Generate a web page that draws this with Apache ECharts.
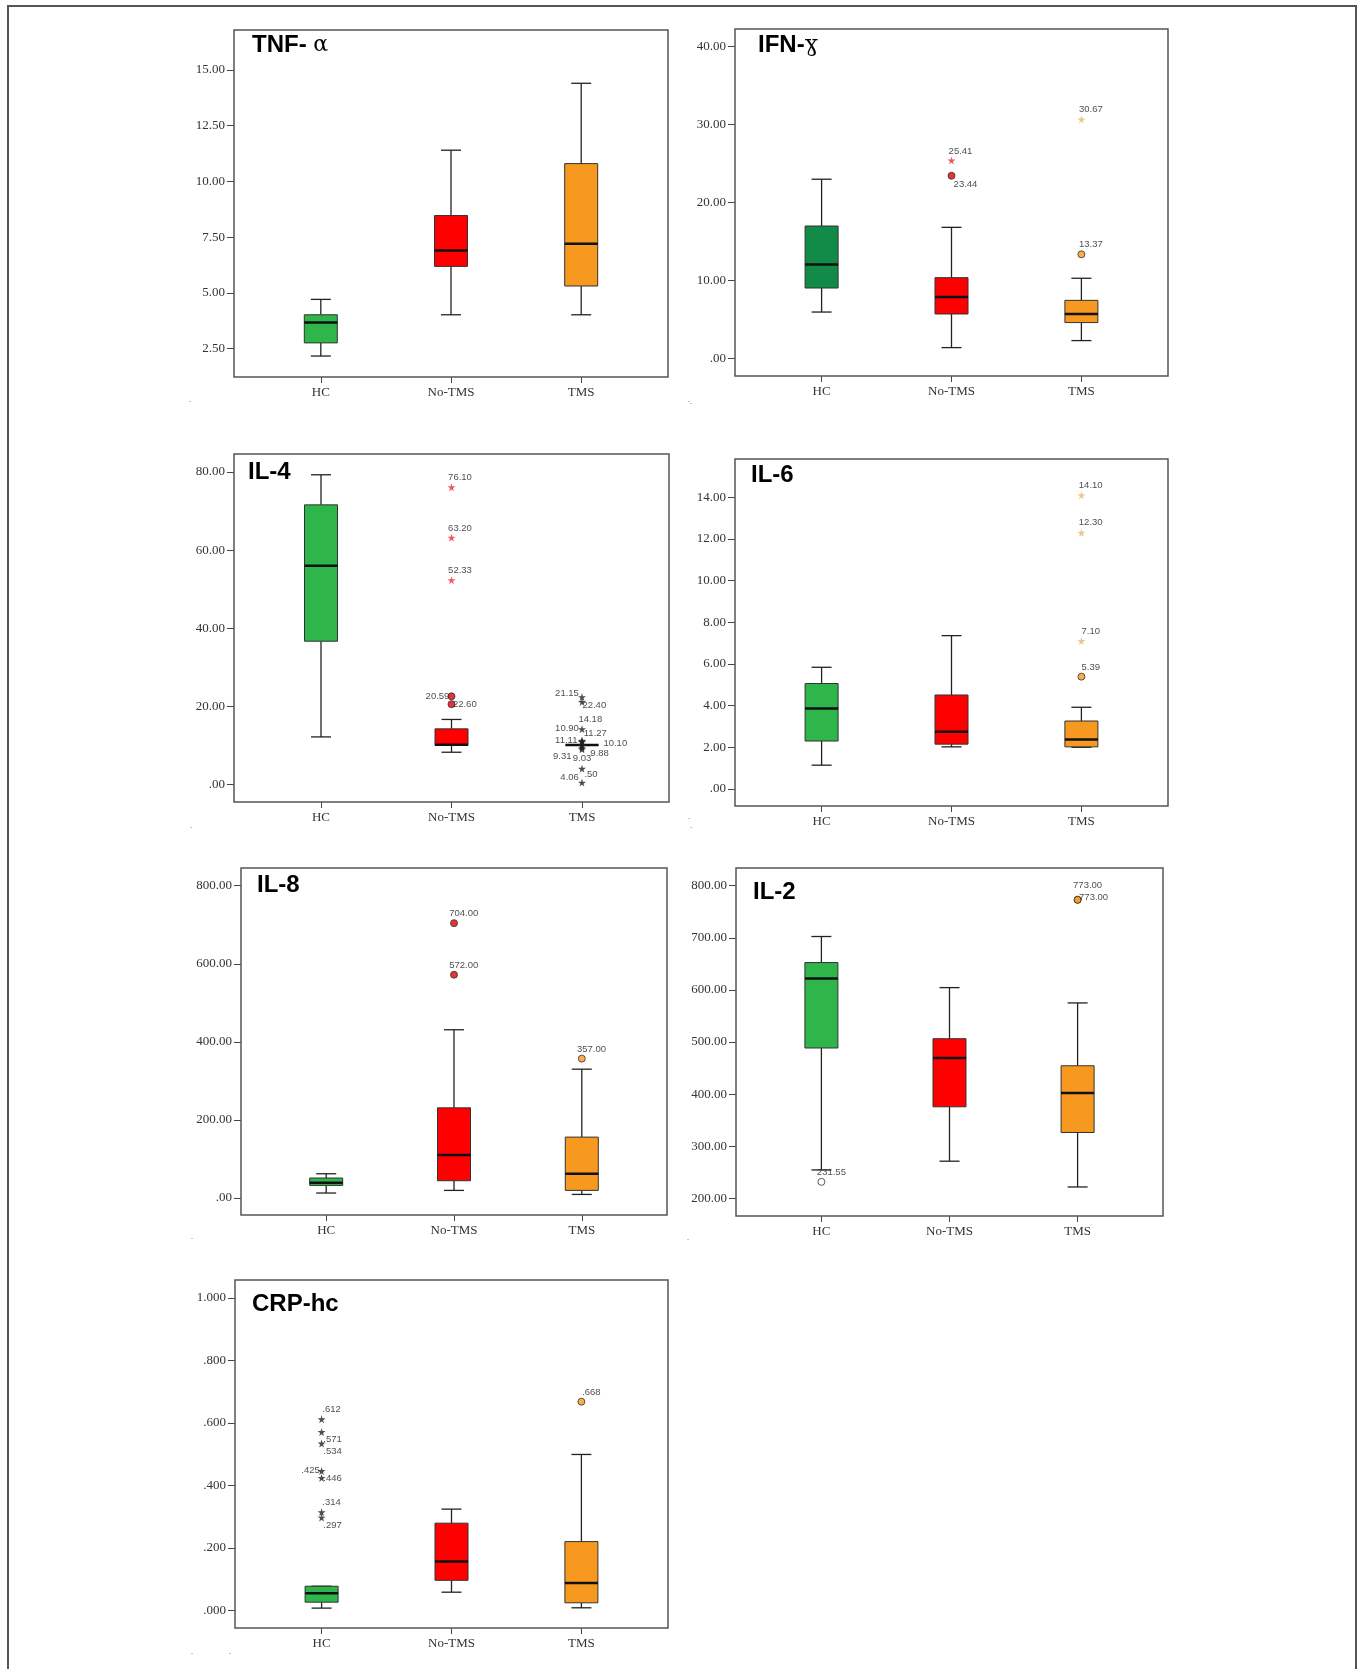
<!DOCTYPE html>
<html><head><meta charset="utf-8">
<script src="https://cdn.jsdelivr.net/npm/echarts@6/dist/echarts.min.js"></script>
<style>html,body{margin:0;padding:0;background:#fff}#c{width:1362px;height:1669px}</style>
</head><body><div id="c"></div>
<script>
// ---------------- DATA ----------------
const categories = ['HC', 'No-TMS', 'TMS'];

// box statistics per group: [min, Q1, median, Q3, max]
const tnfBox = [[2.17, 2.76, 3.67, 4.02, 4.71], [4.02, 6.19, 6.90, 8.47, 11.40], [4.02, 5.31, 7.20, 10.80, 14.40]];
const ifnBox = [[5.97, 9.05, 12.05, 17.00, 23.00], [1.41, 5.72, 7.90, 10.38, 16.83], [2.31, 4.62, 5.72, 7.47, 10.30]];
const il4Box = [[12.2, 36.7, 56.0, 71.6, 79.3], [8.28, 10.0, 10.2, 14.26, 16.67], [10.10, 10.10, 10.10, 10.10, 10.10]];
const il6Box = [[1.14, 2.30, 3.86, 5.06, 5.84], [2.02, 2.15, 2.74, 4.51, 7.36], [2.00, 2.02, 2.37, 3.26, 3.92]];
const il8Box = [[12.8, 32.3, 39.2, 51.2, 62.2], [19.5, 44.3, 110, 231, 431], [9.2, 19.5, 62.2, 156, 330]];
const il2Box = [[254.4, 488.5, 621.7, 652.5, 702.5], [271.2, 375.6, 469.2, 506.3, 604.4], [221.7, 326.3, 401.9, 454.4, 575]];
const crpBox = [[0.007, 0.026, 0.0545, 0.077, 0.077], [0.058, 0.096, 0.156, 0.279, 0.324], [0.008, 0.024, 0.0875, 0.220, 0.499]];

// outliers: [group, value, label text, kind]  kind: 'o' circle, 'w' open circle, '*' extreme (star)
const tnfOut = [];
const ifnOut = [[1, 25.41, '25.41', '*'], [1, 23.44, '23.44', 'o'], [2, 30.67, '30.67', '*'], [2, 13.37, '13.37', 'o']];
const il4Out = [[1, 76.10, '76.10', '*'], [1, 63.20, '63.20', '*'], [1, 52.33, '52.33', '*'],
  [1, 22.60, '20.59', 'o'], [1, 20.59, '22.60', 'o'],
  [2, 22.40, '21.15', '*'], [2, 21.15, '22.40', '*'], [2, 14.18, '14.18', '*'], [2, 11.27, '11.27', '*'],
  [2, 11.11, '11.11', '*'], [2, 10.90, '10.90', '*'], [2, 10.10, '10.10', '*'], [2, 9.88, '9.88', '*'],
  [2, 9.31, '9.31', '*'], [2, 9.03, '9.03', '*'], [2, 4.06, '4.06', '*'], [2, 0.50, '.50', '*']];
const il6Out = [[2, 14.10, '14.10', '*'], [2, 12.30, '12.30', '*'], [2, 7.10, '7.10', '*'], [2, 5.39, '5.39', 'o']];
const il8Out = [[1, 704, '704.00', 'o'], [1, 572, '572.00', 'o'], [2, 357, '357.00', 'o']];
const il2Out = [[0, 231.55, '231.55', 'w'], [2, 773, '773.00', 'o'], [2, 773, '773.00', 'o']];
const crpOut = [[0, 0.612, '.612', '*'], [0, 0.571, '.571', '*'], [0, 0.534, '.534', '*'], [0, 0.446, '.425', '*'],
  [0, 0.424, '.446', '*'], [0, 0.314, '.314', '*'], [0, 0.297, '.297', '*'], [2, 0.668, '.668', 'o']];

// tick values
const tnfTicks = [2.5, 5, 7.5, 10, 12.5, 15];
const ifnTicks = [0, 10, 20, 30, 40];
const il4Ticks = [0, 20, 40, 60, 80];
const il6Ticks = [0, 2, 4, 6, 8, 10, 12, 14];
const il8Ticks = [0, 200, 400, 600, 800];
const il2Ticks = [200, 300, 400, 500, 600, 700, 800];
const crpTicks = [0, 0.2, 0.4, 0.6, 0.8, 1.0];

// ---------------- LAYOUT / STYLE ----------------
const GREEN = '#2eb64a', DKGREEN = '#128b48', RED = '#ff0000', ORANGE = '#f7981f';
const starCol = ['#222222', '#e5333b', '#e9b66e'];
const circCol = ['#ffffff', '#e00000', '#f7981f'];

const panels = [
  { title: 'TNF- ', greek: 'α', box: tnfBox, out: tnfOut, lab: [], frame: [234, 30, 668, 377], yr: [1.23, 16.79], ticks: tnfTicks, dec: 2, cols: [GREEN, RED, ORANGE], tpos: [252, 45] },
  { title: 'IFN-', greek: 'ɣ', box: ifnBox, out: ifnOut, lab: [[9, -9.5], [14, 8.5], [9.5, -10], [9.5, -10]], frame: [735, 29, 1168, 376], yr: [-2.23, 42.26], ticks: ifnTicks, dec: 2, cols: [DKGREEN, RED, ORANGE], tpos: [758, 45] },
  { title: 'IL-4', box: il4Box, out: il4Out, lab: [[8.5, -9.5], [8.5, -9.7], [8.5, -9.7], [-14, 0], [13.3, 0.7], [-15, -3.6], [12.3, 3.2], [8.3, -9.7], [13.3, -7.6], [-15.7, -0.3], [-15, -13.5], [33.3, -1.6], [17.6, 7.5], [-19.7, 7.7], [0, 8.6], [-12.4, 8.2], [9, -8]], frame: [234, 454, 669, 802], yr: [-4.46, 84.62], ticks: il4Ticks, dec: 2, cols: [GREEN, RED, ORANGE], tpos: [248, 472], stars: ['#222222', '#e5333b', '#222222'] },
  { title: 'IL-6', box: il6Box, out: il6Out, lab: [[9.3, -10], [9.3, -10], [9.3, -9.7], [9.3, -9.3]], frame: [735, 459, 1168, 806], yr: [-0.82, 15.84], ticks: il6Ticks, dec: 2, cols: [GREEN, RED, ORANGE], tpos: [751, 475] },
  { title: 'IL-8', box: il8Box, out: il8Out, lab: [[9.7, -10], [9.7, -9.3], [9.7, -9.7]], frame: [241, 868, 667, 1215], yr: [-43.5, 845.3], ticks: il8Ticks, dec: 2, cols: [GREEN, RED, ORANGE], tpos: [257, 885] },
  { title: 'IL-2', box: il2Box, out: il2Out, lab: [[10, -9], [10, -14.7], [16, -2.7]], frame: [736, 868, 1163, 1216], yr: [166, 834], ticks: il2Ticks, dec: 2, cols: [GREEN, RED, ORANGE], tpos: [753, 892] },
  { title: 'CRP-hc', box: crpBox, out: crpOut, lab: [[10, -9.7], [11, 7.7], [11, 8.3], [-11, -1], [11, 0.7], [10, -10], [11, 8.3], [10, -9.3]], frame: [235, 1280, 668, 1628], yr: [-0.0567, 1.0577], ticks: crpTicks, dec: 3, cols: [GREEN, RED, ORANGE], tpos: [252, 1304] }
];

const dashMarks = [[190, 401], [689, 401], [691, 403], [191, 827], [689, 818], [691, 827], [192, 1238], [688, 1239], [192, 1653], [230, 1653]];

const STAR = 'path://M50,0 L61,35 L98,35 L68,57 L79,91 L50,70 L21,91 L32,57 L2,35 L39,35 Z';

function fmt(dec) {
  return v => Number(v).toFixed(dec).replace(/^0\./, '.').replace(/^-0\./, '-.');
}

function makeRender(cols) {
  return function (params, api) {
    const g = api.value(0);
    const p = k => api.coord([g, api.value(k)]);
    const lo = p(1), q1 = p(2), md = p(3), q3 = p(4), hi = p(5);
    const x = lo[0], hb = 16.5, hc = 10;
    const ln = { stroke: '#222', lineWidth: 1.3 };
    return {
      type: 'group',
      children: [
        { type: 'line', shape: { x1: x, y1: hi[1], x2: x, y2: q3[1] }, style: ln },
        { type: 'line', shape: { x1: x, y1: q1[1], x2: x, y2: lo[1] }, style: ln },
        { type: 'line', shape: { x1: x - hc, y1: hi[1], x2: x + hc, y2: hi[1] }, style: ln },
        { type: 'line', shape: { x1: x - hc, y1: lo[1], x2: x + hc, y2: lo[1] }, style: ln },
        { type: 'rect', shape: { x: x - hb, y: q3[1], width: 2 * hb, height: q1[1] - q3[1] }, style: { fill: cols[params.dataIndex], stroke: '#333', lineWidth: 1 } },
        { type: 'line', shape: { x1: x - hb, y1: md[1], x2: x + hb, y2: md[1] }, style: { stroke: '#111', lineWidth: 2.5 } }
      ]
    };
  };
}

const grid = [], xAxis = [], yAxis = [], series = [], graphic = [];

graphic.push({ type: 'rect', shape: { x: 8, y: 6, width: 1348, height: 1700 }, style: { fill: null, stroke: '#555', lineWidth: 2 }, silent: true });

panels.forEach((P, i) => {
  const [L, T, R, B] = P.frame;
  const W = R - L;
  const inset = 0.05 * W;
  grid.push({ left: L + inset, top: T, width: W - 2 * inset, height: B - T, containLabel: false });
  xAxis.push({
    gridIndex: i, type: 'category', data: categories, boundaryGap: true, position: 'bottom',
    axisLine: { show: false, onZero: false },
    axisTick: { show: true, alignWithLabel: true, length: 6, lineStyle: { color: '#444', width: 1 } },
    axisLabel: { margin: 9, fontFamily: 'Liberation Serif', fontSize: 13, color: '#333' },
    splitLine: { show: false }
  });
  yAxis.push({
    gridIndex: i, type: 'value', min: P.yr[0], max: P.yr[1], offset: inset,
    axisLine: { show: false, onZero: false },
    axisTick: { show: true, customValues: P.ticks, length: 7, lineStyle: { color: '#444', width: 1 } },
    axisLabel: { customValues: P.ticks, formatter: fmt(P.dec), margin: 9, fontFamily: 'Liberation Serif', fontSize: 13, color: '#333' },
    splitLine: { show: false }
  });
  series.push({
    type: 'custom', xAxisIndex: i, yAxisIndex: i,
    data: P.box.map((b, k) => [k, b[0], b[1], b[2], b[3], b[4]]),
    encode: { x: 0, y: [1, 2, 3, 4, 5] },
    renderItem: makeRender(P.cols), silent: true, z: 2
  });
  const sc = P.stars || starCol;
  series.push({
    type: 'scatter', xAxisIndex: i, yAxisIndex: i, z: 5, silent: true,
    data: P.out.map((o, k) => {
      const isStar = o[3] === '*';
      const off = P.lab[k] || [10, -10];
      return {
        name: o[2], value: [o[0], o[1]],
        symbol: isStar ? STAR : 'circle',
        symbolSize: isStar ? 8 : 7,
        itemStyle: isStar ? { color: sc[o[0]] } : { color: o[3] === 'w' ? '#fff' : circCol[o[0]], borderColor: '#333', borderWidth: 1 },
        label: { show: true, position: 'inside', offset: off, formatter: '{b}', fontFamily: 'Liberation Sans', fontSize: 9.5, color: '#222' }
      };
    })
  });
  graphic.push({ type: 'rect', shape: { x: L, y: T, width: W, height: B - T }, style: { fill: null, stroke: '#555', lineWidth: 1.5 }, silent: true, z: 10 });
  graphic.push({
    type: 'text', x: P.tpos[0], y: P.tpos[1], silent: true, z: 10,
    style: {
      text: P.greek ? '{b|' + P.title + '}{g|' + P.greek + '}' : '{b|' + P.title + '}',
      verticalAlign: 'middle', align: 'left',
      rich: {
        b: { fontFamily: 'Liberation Sans', fontWeight: 'bold', fontSize: 24, fill: '#000', color: '#000' },
        g: { fontFamily: 'DejaVu Serif', fontWeight: 'normal', fontSize: 22, fill: '#000', color: '#000' }
      }
    }
  });
});

dashMarks.forEach(d => graphic.push({ type: 'text', x: d[0], y: d[1], silent: true, style: { text: '-', fontSize: 8, fill: '#999', align: 'center', verticalAlign: 'middle' } }));

const chart = echarts.init(document.getElementById('c'), null, { renderer: 'canvas' });
chart.setOption({ animation: false, backgroundColor: '#fff', grid, xAxis, yAxis, series, graphic });
</script>
</body></html>
